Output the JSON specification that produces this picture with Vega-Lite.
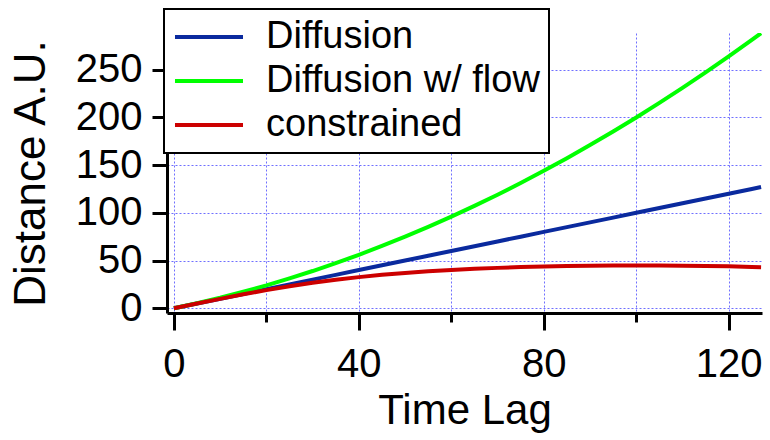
{
  "$schema": "https://vega.github.io/schema/vega-lite/v6.json",
  "width": 595,
  "height": 280,
  "autosize": {"type": "none"},
  "padding": {"left": 167, "top": 33, "right": 8, "bottom": 127},
  "background": "white",
  "config": {
    "view": {"stroke": null},
    "font": "Liberation Sans"
  },
  "datasets": {
    "curves": [
      {"t": 0, "series": "Diffusion", "d": 0},
      {"t": 5, "series": "Diffusion", "d": 5},
      {"t": 10, "series": "Diffusion", "d": 10},
      {"t": 15, "series": "Diffusion", "d": 15},
      {"t": 20, "series": "Diffusion", "d": 20},
      {"t": 25, "series": "Diffusion", "d": 25},
      {"t": 30, "series": "Diffusion", "d": 30},
      {"t": 35, "series": "Diffusion", "d": 35},
      {"t": 40, "series": "Diffusion", "d": 40},
      {"t": 45, "series": "Diffusion", "d": 45},
      {"t": 50, "series": "Diffusion", "d": 50},
      {"t": 55, "series": "Diffusion", "d": 55},
      {"t": 60, "series": "Diffusion", "d": 60},
      {"t": 65, "series": "Diffusion", "d": 65},
      {"t": 70, "series": "Diffusion", "d": 70},
      {"t": 75, "series": "Diffusion", "d": 75},
      {"t": 80, "series": "Diffusion", "d": 80},
      {"t": 85, "series": "Diffusion", "d": 85},
      {"t": 90, "series": "Diffusion", "d": 90},
      {"t": 95, "series": "Diffusion", "d": 95},
      {"t": 100, "series": "Diffusion", "d": 100},
      {"t": 105, "series": "Diffusion", "d": 105},
      {"t": 110, "series": "Diffusion", "d": 110},
      {"t": 115, "series": "Diffusion", "d": 115},
      {"t": 120, "series": "Diffusion", "d": 120},
      {"t": 125, "series": "Diffusion", "d": 125},
      {"t": 127, "series": "Diffusion", "d": 127},
      {"t": 0, "series": "Diffusion w/ flow", "d": 0},
      {"t": 5, "series": "Diffusion w/ flow", "d": 5.3},
      {"t": 10, "series": "Diffusion w/ flow", "d": 11},
      {"t": 15, "series": "Diffusion w/ flow", "d": 17.3},
      {"t": 20, "series": "Diffusion w/ flow", "d": 24},
      {"t": 25, "series": "Diffusion w/ flow", "d": 31.3},
      {"t": 30, "series": "Diffusion w/ flow", "d": 39},
      {"t": 35, "series": "Diffusion w/ flow", "d": 47.3},
      {"t": 40, "series": "Diffusion w/ flow", "d": 56},
      {"t": 45, "series": "Diffusion w/ flow", "d": 65.3},
      {"t": 50, "series": "Diffusion w/ flow", "d": 75},
      {"t": 55, "series": "Diffusion w/ flow", "d": 85.3},
      {"t": 60, "series": "Diffusion w/ flow", "d": 96},
      {"t": 65, "series": "Diffusion w/ flow", "d": 107.3},
      {"t": 70, "series": "Diffusion w/ flow", "d": 119},
      {"t": 75, "series": "Diffusion w/ flow", "d": 131.3},
      {"t": 80, "series": "Diffusion w/ flow", "d": 144},
      {"t": 85, "series": "Diffusion w/ flow", "d": 157.3},
      {"t": 90, "series": "Diffusion w/ flow", "d": 171},
      {"t": 95, "series": "Diffusion w/ flow", "d": 185.3},
      {"t": 100, "series": "Diffusion w/ flow", "d": 200},
      {"t": 105, "series": "Diffusion w/ flow", "d": 215.3},
      {"t": 110, "series": "Diffusion w/ flow", "d": 231},
      {"t": 115, "series": "Diffusion w/ flow", "d": 247.3},
      {"t": 120, "series": "Diffusion w/ flow", "d": 264},
      {"t": 125, "series": "Diffusion w/ flow", "d": 281.3},
      {"t": 127, "series": "Diffusion w/ flow", "d": 288.3},
      {"t": 0, "series": "constrained", "d": 0},
      {"t": 5, "series": "constrained", "d": 5},
      {"t": 10, "series": "constrained", "d": 9.8},
      {"t": 15, "series": "constrained", "d": 14.6},
      {"t": 20, "series": "constrained", "d": 19},
      {"t": 25, "series": "constrained", "d": 23},
      {"t": 30, "series": "constrained", "d": 26.6},
      {"t": 35, "series": "constrained", "d": 29.8},
      {"t": 40, "series": "constrained", "d": 32.6},
      {"t": 45, "series": "constrained", "d": 35},
      {"t": 50, "series": "constrained", "d": 37},
      {"t": 55, "series": "constrained", "d": 38.7},
      {"t": 60, "series": "constrained", "d": 40.1},
      {"t": 65, "series": "constrained", "d": 41.3},
      {"t": 70, "series": "constrained", "d": 42.3},
      {"t": 75, "series": "constrained", "d": 43.1},
      {"t": 80, "series": "constrained", "d": 43.7},
      {"t": 85, "series": "constrained", "d": 44.2},
      {"t": 90, "series": "constrained", "d": 44.5},
      {"t": 95, "series": "constrained", "d": 44.7},
      {"t": 100, "series": "constrained", "d": 44.8},
      {"t": 105, "series": "constrained", "d": 44.8},
      {"t": 110, "series": "constrained", "d": 44.6},
      {"t": 115, "series": "constrained", "d": 44.3},
      {"t": 120, "series": "constrained", "d": 43.9},
      {"t": 125, "series": "constrained", "d": 43.3},
      {"t": 127, "series": "constrained", "d": 43}
    ]
  },
  "data": {"name": "curves"},
  "mark": {"type": "line", "strokeWidth": 4, "clip": true},
  "encoding": {
    "x": {
      "field": "t",
      "type": "quantitative",
      "scale": {"domain": [-1.5, 127.2], "nice": false, "zero": false},
      "axis": {
        "title": "Time Lag",
        "values": [0, 20, 40, 60, 80, 100, 120],
        "labelExpr": "datum.value % 40 === 0 ? datum.label : ''",
        "labelFontSize": 40,
        "labelColor": "black",
        "labelPadding": 14,
        "labelFlush": false,
        "titleFontSize": 42,
        "titleFontWeight": "normal",
        "titleColor": "black",
        "titlePadding": 6,
        "domainColor": "black",
        "domainWidth": 3,
        "tickColor": "black",
        "tickWidth": 3,
        "tickSize": {"condition": {"test": "datum.value % 40 === 0", "value": 17}, "value": 9},
        "grid": true,
        "gridColor": "#6f6fff",
        "gridDash": [2, 2],
        "gridWidth": 1
      }
    },
    "y": {
      "field": "d",
      "type": "quantitative",
      "scale": {"domain": [-5, 288.5], "nice": false, "zero": false},
      "axis": {
        "title": "Distance A.U.",
        "values": [0, 50, 100, 150, 200, 250],
        "labelFontSize": 40,
        "labelColor": "black",
        "labelPadding": 10,
        "labelFlush": false,
        "titleFontSize": 44,
        "titleFontWeight": "normal",
        "titleColor": "black",
        "titlePadding": 22,
        "domainColor": "black",
        "domainWidth": 3,
        "tickColor": "black",
        "tickWidth": 3,
        "tickSize": 15,
        "grid": true,
        "gridColor": "#6f6fff",
        "gridDash": [2, 2],
        "gridWidth": 1
      }
    },
    "color": {
      "field": "series",
      "type": "nominal",
      "scale": {
        "domain": ["Diffusion", "Diffusion w/ flow", "constrained"],
        "range": ["#0a2a9e", "#00ff00", "#cc0000"]
      },
      "legend": {
        "title": null,
        "orient": "none",
        "legendX": -3,
        "legendY": -24,
        "fillColor": "white",
        "strokeColor": "black",
        "padding": 9,
        "labelFontSize": 38,
        "labelColor": "black",
        "labelFont": "Liberation Sans",
        "symbolType": "M-3,0L3,0",
        "symbolSize": 514,
        "symbolStrokeWidth": 4,
        "symbolOffset": 17,
        "labelOffset": 38,
        "rowPadding": 6,
        "labelLimit": 500,
        "encode": {"legend": {"update": {"strokeWidth": {"value": 2}}}}
      }
    }
  }
}
